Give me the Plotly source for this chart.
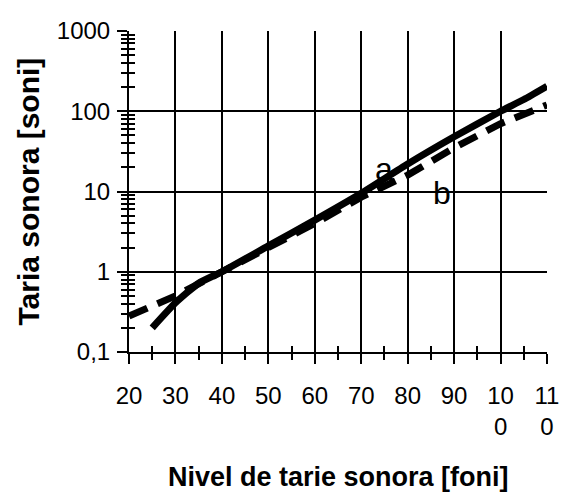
import plotly.graph_objects as go

# Data
a_x = [25, 30, 35, 40, 50, 60, 70, 80, 90, 100, 105, 110]
a_y = [0.2, 0.41, 0.72, 1.0, 2.1, 4.4, 9.5, 22, 48, 100, 140, 205]
b_x = [20, 30, 40, 50, 60, 70, 80, 90, 100, 110]
b_y = [0.28, 0.5, 1.0, 2.0, 4.0, 8.5, 16, 35, 70, 120]

x_ticks = [20, 30, 40, 50, 60, 70, 80, 90, 100, 110]
x_ticktext = ["20", "30", "40", "50", "60", "70", "80", "90", "10<br>0", "11<br>0"]
y_ticks = [0.1, 1, 10, 100, 1000]
y_ticktext = ["0,1", "1", "10", "100", "1000"]

FONT = "Liberation Sans, Arial, sans-serif"

fig = go.Figure()
fig.add_trace(go.Scatter(x=b_x, y=b_y, mode="lines", name="b",
                         line=dict(color="black", width=7, dash="20px,11px")))
fig.add_trace(go.Scatter(x=a_x, y=a_y, mode="lines", name="a",
                         line=dict(color="black", width=7, shape="spline", smoothing=0.5)))
# invisible trace for overlay axes (inside ticks)
fig.add_trace(go.Scatter(x=[None], y=[None], xaxis="x2", yaxis="y2",
                         showlegend=False, hoverinfo="skip"))

xr = [20, 110]
yr = [-1, 3]

common_x = dict(range=xr, tickvals=x_ticks, tickcolor="black", tickwidth=1.5,
                ticklen=10, fixedrange=True, automargin=False)
common_y = dict(type="log", range=yr, tickvals=y_ticks, tickcolor="black",
                tickwidth=1.5, ticklen=10, fixedrange=True, automargin=False)

fig.update_layout(
    width=562, height=501,
    margin=dict(l=129, r=15, t=31, b=149, autoexpand=False),
    paper_bgcolor="white", plot_bgcolor="white",
    showlegend=False,
    font=dict(family=FONT, color="black", size=24),
    xaxis=dict(**common_x, ticktext=x_ticktext, ticks="outside",
               showline=True, linecolor="black", linewidth=2,
               showgrid=True, gridcolor="black", gridwidth=1.5,
               zeroline=False, ticklabeloverflow="allow",
               minor=dict(ticks="outside", ticklen=6, tickcolor="black",
                          tickwidth=1.5, dtick=5, tick0=20, showgrid=False),
               tickfont=dict(size=24, family=FONT), ticklabelstandoff=11),
    yaxis=dict(**common_y, ticktext=y_ticktext, ticks="outside",
               showline=True, linecolor="black", linewidth=2,
               showgrid=True, gridcolor="black", gridwidth=1.5,
               zeroline=False, ticklabeloverflow="allow",
               minor=dict(ticks="outside", ticklen=6, tickcolor="black",
                          tickwidth=1.5, dtick="D1", showgrid=False),
               tickfont=dict(size=24, family=FONT), ticklabelstandoff=2),
    xaxis2=dict(**common_x, overlaying="x", anchor="y", side="bottom",
                ticks="inside", showticklabels=False, showgrid=False,
                showline=False, zeroline=False,
                minor=dict(ticks="inside", ticklen=6, tickcolor="black",
                           tickwidth=1.5, dtick=5, tick0=20, showgrid=False)),
    yaxis2=dict(**common_y, overlaying="y", anchor="x", side="left",
                ticks="inside", showticklabels=False, showgrid=False,
                showline=False, zeroline=False,
                minor=dict(ticks="inside", ticklen=6, tickcolor="black",
                           tickwidth=1.5, dtick="D1", showgrid=False)),
    annotations=[
        dict(text="<b>Nivel de tarie sonora [foni]</b>", xref="paper", yref="paper",
             x=0.5, y=-0.389, xanchor="center", yanchor="middle", showarrow=False,
             font=dict(size=27, family=FONT, color="black")),
        dict(text="<b>Taria sonora [soni]</b>", xref="paper", yref="paper",
             x=-0.2416, y=0.5, xanchor="center", yanchor="middle", showarrow=False,
             textangle=-90, font=dict(size=30, family=FONT, color="black")),
        dict(text="a", xref="x", yref="y", x=74.9, y=1.28, showarrow=False,
             xanchor="center", yanchor="middle",
             font=dict(size=32, family=FONT, color="black")),
        dict(text="b", xref="x", yref="y", x=87.4, y=0.98, showarrow=False,
             xanchor="center", yanchor="middle",
             font=dict(size=32, family=FONT, color="black")),
    ],
)

fig.write_html(
    "out.html",
    config={"displayModeBar": False},
    post_script="document.body.style.margin='0';document.body.style.overflow='hidden';",
)
